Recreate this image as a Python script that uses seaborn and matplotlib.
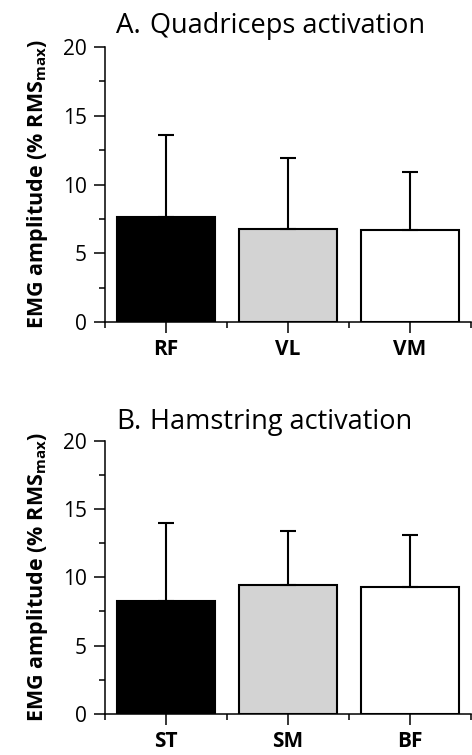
import numpy as np
import pandas as pd
import seaborn as sns
import matplotlib
matplotlib.use('Agg')
from matplotlib import pyplot as plt
from matplotlib.ticker import MultipleLocator, FixedLocator

# values (mean and upper SD end)
quad_muscles = ['RF', 'VL', 'VM']
quad_mean = [7.65, 6.75, 6.7]
quad_sd = [5.95, 5.15, 4.2]

ham_muscles = ['ST', 'SM', 'BF']
ham_mean = [8.25, 9.45, 9.25]
ham_sd = [5.7, 3.95, 3.85]

bar_colors = ['#000000', '#d3d3d3', '#ffffff']

sns.set_style('ticks')
plt.rcParams['font.family'] = ['Open Sans', 'DejaVu Sans']
plt.rcParams['mathtext.fontset'] = 'custom'
plt.rcParams['mathtext.rm'] = 'Open Sans'
plt.rcParams['axes.linewidth'] = 1.1
plt.rcParams['axes.edgecolor'] = 'black'
plt.rcParams['xtick.color'] = 'black'
plt.rcParams['ytick.color'] = 'black'
plt.rcParams['text.color'] = 'black'
plt.rcParams['axes.labelcolor'] = 'black'

fig = plt.figure(figsize=(4.72, 7.55), dpi=100)
ax_a = fig.add_axes([0.2225, 0.5735, 0.7755, 0.3642])
ax_b = fig.add_axes([0.2225, 0.0545, 0.7755, 0.3620])


def panel(ax, muscles, mean, sd, letter, title, ty):
    df = pd.DataFrame({'muscle': muscles, 'mean': mean, 'sd': sd})
    sns.barplot(data=df, x='muscle', y='mean', hue='muscle', palette=bar_colors,
                width=0.81, edgecolor='black', linewidth=1.5, errorbar=None,
                legend=False, ax=ax)
    ax.errorbar(np.arange(len(muscles)), df['mean'], yerr=[np.zeros(len(sd)), df['sd']],
                fmt='none', ecolor='black', elinewidth=1.5, capsize=5.5, capthick=1.5)
    ax.set_xlim(-0.5, 2.5)
    ax.set_ylim(0, 20)
    ax.yaxis.set_major_locator(MultipleLocator(5))
    ax.yaxis.set_minor_locator(MultipleLocator(2.5))
    ax.xaxis.set_minor_locator(FixedLocator([-0.5, 0.5, 1.5, 2.5]))
    ax.tick_params(axis='both', which='major', length=8, width=1.1, direction='out')
    ax.tick_params(axis='both', which='minor', length=4, width=1.1, direction='out')
    ax.tick_params(axis='y', labelsize=15, pad=5)
    ax.tick_params(axis='x', labelsize=15, pad=4)
    for lab in ax.get_xticklabels():
        lab.set_fontweight('bold')
    ax.set_xlabel('')
    ax.set_ylabel(r'EMG amplitude (% RMS$_{\mathregular{max}}$)', fontsize=15.5,
                  fontweight='bold', labelpad=9)
    sns.despine(ax=ax)
    ax.text(0.03, ty, letter, transform=ax.transAxes, fontsize=20,
            va='baseline', ha='left')
    ax.text(0.122, ty, title, transform=ax.transAxes, fontsize=19.5,
            va='baseline', ha='left')


panel(ax_a, quad_muscles, quad_mean, quad_sd, 'A.', 'Quadriceps activation', 1.05)
panel(ax_b, ham_muscles, ham_mean, ham_sd, 'B.', 'Hamstring activation', 1.043)

fig.savefig('out.png', dpi=100)
